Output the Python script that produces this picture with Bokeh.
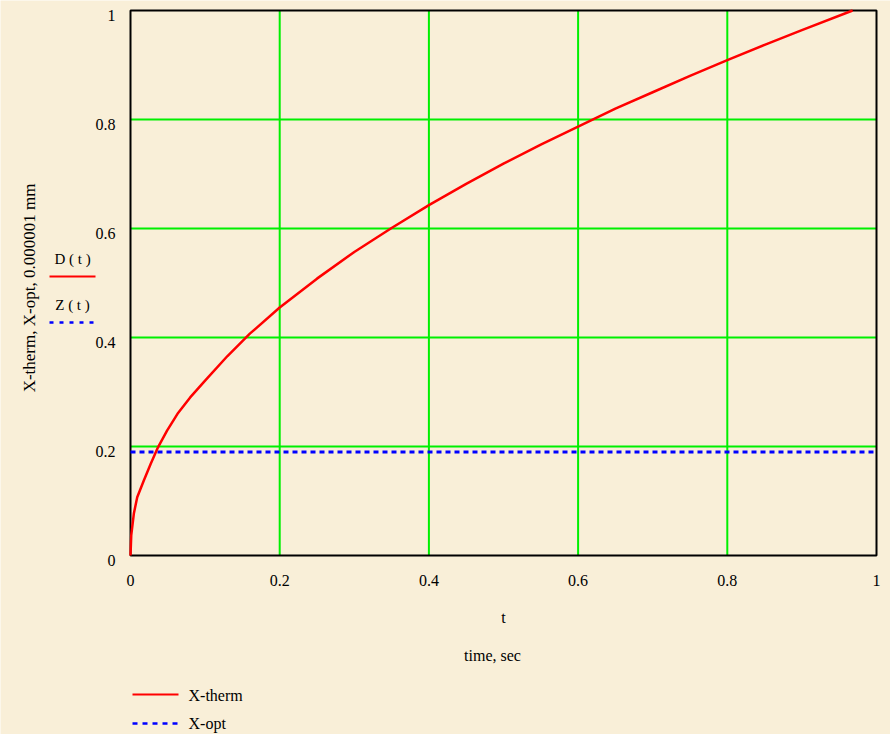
from bokeh.plotting import figure
from bokeh.models import Range1d, FixedTicker, Label, LinearAxis
from bokeh.embed import file_html
from bokeh.resources import INLINE

# Thermal penetration depth D(t) versus time, and the constant optical depth Z(t)
T = [0, 0.001, 0.0045, 0.009, 0.018, 0.027, 0.037, 0.049, 0.063, 0.08, 0.1,
     0.13, 0.16, 0.2, 0.25, 0.3, 0.35, 0.4, 0.45, 0.5, 0.55, 0.6, 0.65, 0.7,
     0.75, 0.8, 0.85, 0.9, 0.968]
D = [0, 0.037, 0.077, 0.107, 0.138, 0.168, 0.199, 0.229, 0.26, 0.29, 0.321,
     0.366, 0.407, 0.455, 0.508, 0.557, 0.601, 0.643, 0.682, 0.719, 0.754, 0.787,
     0.82, 0.85, 0.88, 0.909, 0.937, 0.964, 1.0]
T_Z = [0, 1]
Z = [0.19, 0.19]

X_LIM = [0, 1]
Y_LIM = [0, 1]
TICKS = [0, 0.2, 0.4, 0.6, 0.8, 1]
TICK_LABELS = ["0", "0.2", "0.4", "0.6", "0.8", "1"]
GRID_TICKS = [0.2, 0.4, 0.6, 0.8]

BG = "#F9EFD8"
RED = "#FF0000"
BLUE = "#0000FF"
GREEN = "#00F000"
SERIF = "Liberation Serif"

# The frame spans the whole page; the plot box [0,1]x[0,1] sits inside it,
# leaving room for the titles and keys around it.
W, H = 890, 734
BOX_L, BOX_R, BOX_T, BOX_B = 130, 876, 10, 555
sx = (BOX_R - BOX_L) / (X_LIM[1] - X_LIM[0])
sy = (BOX_B - BOX_T) / (Y_LIM[1] - Y_LIM[0])
x_range = Range1d(X_LIM[0] - BOX_L / sx, X_LIM[0] + (W - BOX_L) / sx)
y_range = Range1d(Y_LIM[0] - (H - BOX_B) / sy, Y_LIM[0] + BOX_B / sy)

p = figure(width=W, height=H, output_backend="svg", toolbar_location=None,
           x_range=x_range, y_range=y_range,
           x_axis_location=None, y_axis_location=None, min_border=0)
p.background_fill_color = BG
p.border_fill_color = BG
p.outline_line_color = None
p.grid.visible = False

# tick labels in this style sit a few pixels below their grid line
p.extra_y_ranges = {"lab": Range1d(y_range.start + 5 / sy, y_range.end + 5 / sy)}

overrides = {t: lab for t, lab in zip(TICKS, TICK_LABELS)}
xaxis = LinearAxis(fixed_location=Y_LIM[0], bounds=tuple(X_LIM))
yaxis = LinearAxis(fixed_location=X_LIM[0], y_range_name="lab", bounds=tuple(Y_LIM))
for ax in (xaxis, yaxis):
    ax.ticker = FixedTicker(ticks=TICKS)
    ax.major_label_overrides = overrides
    ax.major_tick_line_color = None
    ax.minor_tick_line_color = None
    ax.axis_line_color = None
    ax.major_label_text_font = SERIF
    ax.major_label_text_font_size = "16px"
    ax.major_label_text_color = "black"
    ax.axis_label_text_font = SERIF
    ax.axis_label_text_font_style = "normal"
    ax.axis_label_text_color = "black"
xaxis.major_label_standoff = 13
yaxis.major_label_standoff = 9
xaxis.axis_label = "t"
xaxis.axis_label_text_font_size = "16px"
xaxis.axis_label_standoff = 20
yaxis.axis_label = "X-therm, X-opt, 0.000001 mm"
yaxis.axis_label_text_font_size = "17px"
yaxis.axis_label_standoff = 54
p.add_layout(xaxis, "below")
p.add_layout(yaxis, "left")

# grid
p.segment(x0=GRID_TICKS, y0=Y_LIM[0], x1=GRID_TICKS, y1=Y_LIM[1],
          line_color=GREEN, line_width=2)
p.segment(x0=X_LIM[0], y0=GRID_TICKS, x1=X_LIM[1], y1=GRID_TICKS,
          line_color=GREEN, line_width=2)
# plot box
p.quad(left=X_LIM[0], right=X_LIM[1], bottom=Y_LIM[0], top=Y_LIM[1],
       fill_color=None, line_color="black", line_width=2)

p.line(T_Z, Z, line_color=BLUE, line_width=3, line_dash="5 4")
p.line(T, D, line_color=RED, line_width=2.5)


def px(x):
    return X_LIM[0] + (x - BOX_L) / sx


def py(y):
    return Y_LIM[0] + (BOX_B - y) / sy


def text(x, y, s, align="center", size="16px"):
    p.add_layout(Label(x=px(x), y=py(y), text=s, text_font=SERIF, text_font_size=size,
                       text_color="black", text_align=align, text_baseline="middle"))


def key_line(x0, x1, y, color, dash="solid", width=2):
    p.line([px(x0), px(x1)], [py(y), py(y)], line_color=color, line_width=width,
           line_dash=dash)


# function names beside the y axis
text(72, 258, "D ( t )", size="15px")
key_line(49, 95, 276, RED)
text(72, 304, "Z ( t )", size="15px")
key_line(49, 97, 322, BLUE, "4 6", 2.5)

# x axis caption
text(492, 655, "time, sec")

# key under the chart
key_line(132, 178, 694, RED)
text(188, 695, "X-therm", align="left")
key_line(132, 180, 723, BLUE, "5 5", 2.5)
text(188, 723, "X-opt", align="left")

open("out.html", "w").write(file_html(p, INLINE))
